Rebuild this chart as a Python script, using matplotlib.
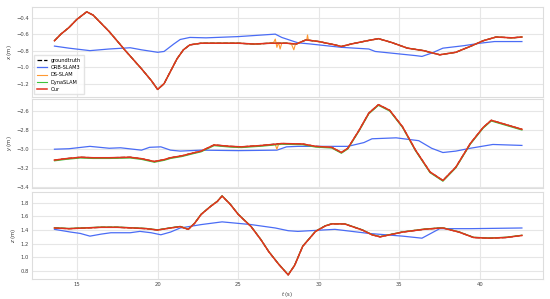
import numpy as np
import matplotlib
matplotlib.use('Agg')
import matplotlib.pyplot as plt

gt_t_x = [13.6, 14.0, 14.5, 15.0, 15.6, 16.0, 17.0, 18.0, 19.0, 19.6, 20.0, 20.4, 20.8, 21.2, 21.6,
          22.0, 22.7, 24.0, 25.0, 26.0, 27.0, 28.0, 28.6, 29.2, 30.0, 31.0, 31.4, 32.0, 33.0, 33.7,
          34.5, 35.5, 36.5, 37.5, 38.5, 39.5, 40.2, 41.0, 42.0, 42.6]
gt_x = [-0.68, -0.60, -0.52, -0.42, -0.33, -0.37, -0.57, -0.80, -1.02, -1.16, -1.27, -1.20, -1.05, -0.90, -0.79,
        -0.73, -0.71, -0.71, -0.71, -0.72, -0.71, -0.71, -0.72, -0.67, -0.69, -0.73, -0.75, -0.72, -0.68, -0.655,
        -0.70, -0.77, -0.80, -0.85, -0.82, -0.74, -0.68, -0.635, -0.645, -0.635]

gt_t_y = [13.6, 14.3, 15.2, 16.0, 17.0, 18.3, 19.0, 19.8, 20.4, 20.8, 21.5, 22.2, 22.7, 23.5, 24.5,
          25.2, 26.5, 27.7, 29.0, 29.8, 30.8, 31.4, 31.8, 32.5, 33.1, 33.7, 34.4, 35.2, 36.0, 36.9,
          37.7, 38.5, 39.4, 40.2, 40.7, 41.4, 42.0, 42.6]
gt_y = [-3.115, -3.10, -3.085, -3.09, -3.09, -3.085, -3.10, -3.13, -3.11, -3.09, -3.07, -3.04, -3.02, -2.955, -2.97,
        -2.975, -2.96, -2.94, -2.945, -2.97, -2.98, -3.035, -2.99, -2.80, -2.62, -2.53, -2.59, -2.765, -3.01, -3.24,
        -3.33, -3.19, -2.94, -2.77, -2.695, -2.73, -2.76, -2.79]

gt_t_z = [13.6, 14.5, 15.5, 16.5, 17.5, 18.5, 19.3, 20.0, 20.8, 21.4, 21.9, 22.3, 22.7, 23.3, 23.7,
          24.0, 24.5, 25.0, 25.8, 26.4, 26.9, 27.5, 28.1, 28.5, 29.0, 29.8, 30.4, 30.8, 31.6, 32.7,
          33.3, 33.8, 35.2, 36.5, 37.3, 37.7, 38.7, 39.6, 40.6, 41.6, 42.6]
gt_z = [1.43, 1.42, 1.43, 1.44, 1.44, 1.43, 1.42, 1.40, 1.43, 1.45, 1.41, 1.50, 1.63, 1.75, 1.82,
        1.90, 1.78, 1.63, 1.45, 1.26, 1.08, 0.90, 0.74, 0.88, 1.16, 1.38, 1.46, 1.49, 1.49, 1.40,
        1.33, 1.30, 1.37, 1.41, 1.425, 1.43, 1.37, 1.29, 1.28, 1.29, 1.32]

# ORB-SLAM3
orb_t_x = [13.6, 14.5, 15.8, 17.0, 18.3, 19.0, 20.0, 20.4, 21.0, 21.4, 22.0, 23.0, 25.0, 27.3, 27.7,
           28.7, 29.5, 31.4, 33.1, 33.5, 36.0, 36.4, 37.0, 37.7, 39.0, 40.0, 40.9, 42.6]
orb_x = [-0.745, -0.77, -0.80, -0.78, -0.765, -0.79, -0.82, -0.81, -0.72, -0.665, -0.64, -0.645, -0.63, -0.60, -0.64,
         -0.705, -0.72, -0.76, -0.78, -0.81, -0.86, -0.87, -0.83, -0.77, -0.74, -0.71, -0.69, -0.69]
orb_t_y = [13.6, 14.5, 15.8, 17.0, 17.7, 19.0, 19.5, 20.2, 20.8, 21.4, 22.7, 25.0, 27.4, 28.0, 28.7,
           31.8, 32.8, 33.3, 34.8, 36.2, 37.0, 37.7, 38.5, 39.4, 40.8, 42.6]
orb_y = [-3.00, -2.995, -2.97, -2.99, -2.985, -3.01, -2.98, -2.975, -3.01, -3.02, -3.01, -3.015, -3.01, -2.975, -2.97,
         -2.97, -2.93, -2.89, -2.88, -2.91, -2.99, -3.035, -3.02, -2.99, -2.95, -2.96]
orb_t_z = [13.6, 14.6, 15.2, 15.8, 16.5, 17.1, 18.3, 18.9, 19.6, 20.2, 20.8, 21.4, 22.7, 24.0, 25.8,
           27.3, 28.1, 28.7, 31.0, 33.1, 35.2, 36.4, 37.5, 39.4, 42.6]
orb_z = [1.41, 1.37, 1.35, 1.31, 1.34, 1.36, 1.36, 1.38, 1.36, 1.33, 1.37, 1.43, 1.48, 1.52, 1.48,
         1.43, 1.39, 1.38, 1.41, 1.35, 1.31, 1.28, 1.42, 1.42, 1.43]

# DS-SLAM glitches (extra points on top of the ground truth path)
ds_spike_t_x = [27.2, 27.3, 27.4, 27.5, 27.6, 27.7, 28.3, 28.45, 28.55, 29.25, 29.3, 29.35]
ds_spike_x = [-0.70, -0.66, -0.76, -0.70, -0.78, -0.71, -0.72, -0.79, -0.72, -0.67, -0.61, -0.67]
ds_spike_t_y = [27.3, 27.4, 27.5]
ds_spike_y = [-2.95, -3.0, -2.95]

# DynaSLAM small offset from ground truth
dyna_off = [0.0, -0.008, 0.004]

colors = {'gt': 'black', 'orb': '#4a6cf5', 'ds': '#ff9933', 'dyna': '#3cc43c', 'our': '#e2321f'}


def merge(t, v, st, sv):
    pts = sorted(list(zip(t, v)) + list(zip(st, sv)))
    return [p[0] for p in pts], [p[1] for p in pts]


fig = plt.figure(figsize=(5.5, 2.99), dpi=100)
boxes = [[0.058, 0.676, 0.929, 0.301],
         [0.058, 0.371, 0.929, 0.298],
         [0.058, 0.067, 0.929, 0.291]]

panels = [
    (gt_t_x, gt_x, orb_t_x, orb_x, ds_spike_t_x, ds_spike_x, r'$x$ (m)', (-1.36, -0.27), np.arange(-1.2, -0.39, 0.2)),
    (gt_t_y, gt_y, orb_t_y, orb_y, ds_spike_t_y, ds_spike_y, r'$y$ (m)', (-3.41, -2.47), np.arange(-3.4, -2.59, 0.2)),
    (gt_t_z, gt_z, orb_t_z, orb_z, [], [], r'$z$ (m)', (0.68, 1.96), np.arange(0.8, 1.81, 0.2)),
]

for i, (gt_t, gt_v, ot, ov, st, sv, lab, ylim, yt) in enumerate(panels):
    ax = fig.add_axes(boxes[i])
    ax.set_facecolor('white')
    ax.plot(gt_t, gt_v, color=colors['gt'], ls='--', lw=0.9, label='groundtruth', zorder=2)
    ax.plot(ot, ov, color=colors['orb'], lw=0.9, label='ORB-SLAM3', zorder=3)
    ds_t, ds_v = merge(gt_t, gt_v, st, sv)
    ax.plot(ds_t, ds_v, color=colors['ds'], lw=0.8, label='DS-SLAM', zorder=3)
    ax.plot(gt_t, np.array(gt_v) + dyna_off[i], color=colors['dyna'], lw=0.8, label='DynaSLAM', zorder=3)
    ax.plot(gt_t, gt_v, color=colors['our'], lw=1.1, label='Our', zorder=4)
    ax.set_xlim(12.2, 43.9)
    ax.set_ylim(*ylim)
    ax.set_yticks(yt)
    ax.set_xticks([15, 20, 25, 30, 35, 40])
    ax.grid(True, color='#e6e6e6', lw=0.8)
    ax.set_axisbelow(True)
    for s in ax.spines.values():
        s.set_color('#dddddd')
        s.set_linewidth(0.8)
    ax.tick_params(length=0, labelsize=3.8, labelcolor='#444444', pad=2)
    ax.set_ylabel(lab, fontsize=3.8, color='#333333', labelpad=2)
    if i < 2:
        ax.set_xticklabels([])
    else:
        ax.set_xlabel(r'$t$ (s)', fontsize=3.8, color='#333333', labelpad=2)
    if i == 0:
        ax.legend(loc='lower left', fontsize=3.6, frameon=True, edgecolor='#dddddd',
                  fancybox=False, handlelength=2.0, borderpad=0.5, labelspacing=0.45)

fig.savefig('out.png', dpi=100)
